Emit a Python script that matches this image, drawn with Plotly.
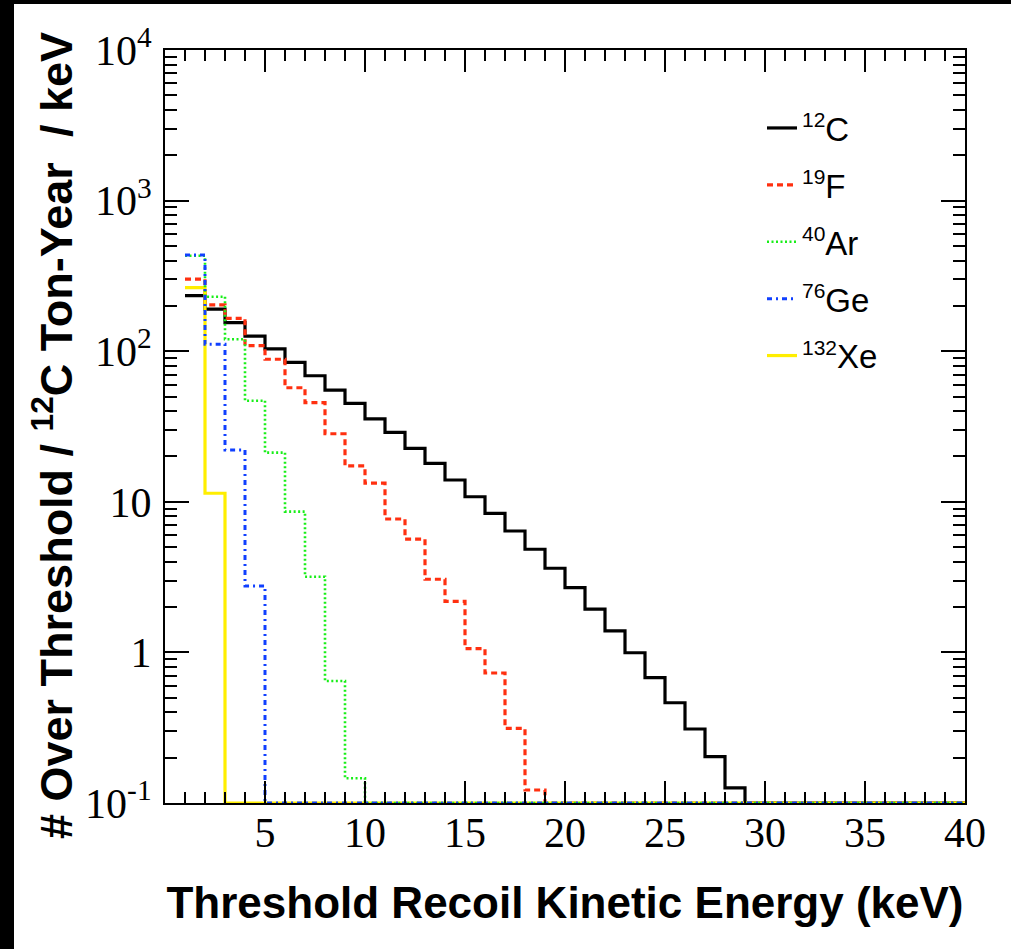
import numpy as np
import plotly.graph_objects as go

# ---------------- data ----------------
bin_edges = list(range(1, 41))  # 39 bins of 1 keV, from 1 to 40 keV

c12 = [234, 190, 155, 126, 103.5, 84.4, 68.7, 55.2, 45.1, 35.5, 28.9, 22.6, 18.0,
       13.96, 10.8, 8.39, 6.40, 4.84, 3.62, 2.69, 1.94, 1.39, 0.995, 0.679, 0.463,
       0.310, 0.203, 0.126] + [0] * 11
f19 = [301, 203, 165, 109, 88.4, 57.2, 45.5, 28.3, 17.3, 13.3, 7.69, 5.66, 3.06,
       2.18, 1.06, 0.730, 0.313, 0.122] + [0] * 21
ar40 = [430, 230, 120, 46.9, 21.2, 8.6, 3.18, 0.646, 0.146] + [0] * 30
ge76 = [435, 111, 22.1, 2.76] + [0] * 35
xe132 = [264, 11.4] + [0] * 37

isotopes = [("12", "C"), ("19", "F"), ("40", "Ar"), ("76", "Ge"), ("132", "Xe")]
y_tickvals = [0.1, 1, 10, 100, 1000, 10000]
y_ticktext = ["10<sup>-1</sup>", "1", "10", "10<sup>2</sup>", "10<sup>3</sup>", "10<sup>4</sup>"]
x_tickvals = [5, 10, 15, 20, 25, 30, 35, 40]
x_ticktext = ["5", "10", "15", "20", "25", "30", "35", "40"]
x_title = "Threshold Recoil Kinetic Energy (keV)"
y_title = "# Over Threshold / <sup>12</sup>C Ton-Year\u00a0 / keV"

Y_MIN, Y_MAX = 0.1, 10000
X_MIN, X_MAX = 0, 40

# ---------------- figure ----------------
fig = go.Figure()

def step_xy(vals):
    v = np.maximum(np.array(vals, dtype=float), Y_MIN)
    xs = list(bin_edges)
    ys = list(v) + [v[-1]]
    return xs, ys

styles = {
    0: dict(color="#000000", width=3.2, dash="solid"),
    1: dict(color="#ff3010", width=3.2, dash="6px,4px"),
    2: dict(color="#18ee18", width=2.6, dash="2px,2.5px"),
    3: dict(color="#1040ff", width=3, dash="5px,4px,2px,4px"),
    4: dict(color="#ffee00", width=3.2, dash="solid"),
}
series = [c12, f19, ar40, ge76, xe132]
draw_order = [0, 1, 4, 2, 3]

for i in draw_order:
    xs, ys = step_xy(series[i])
    mass, sym = isotopes[i]
    fig.add_trace(go.Scatter(
        x=xs, y=ys, mode="lines", line_shape="hv",
        line=styles[i],
        name=f'<sup><span style="font-size:21px">{mass}</span></sup>{sym}',
        legendgroup=f"g{i}", legendrank=i + 1,
        hoverinfo="skip",
    ))

y_minor = [m * 10.0 ** e for e in range(-1, 4) for m in range(2, 10)]

fig.update_layout(
    width=1011, height=949,
    margin=dict(l=165, r=46, t=50, b=146, autoexpand=False),
    paper_bgcolor="white", plot_bgcolor="white",
    showlegend=True,
    legend=dict(
        x=(762 - 165) / 800, y=(803 - 100) / 753, xanchor="left", yanchor="top",
        font=dict(family="Liberation Sans", size=33, color="black"),
        bgcolor="rgba(0,0,0,0)", itemwidth=30, tracegroupgap=11,
        traceorder="grouped",
    ),
    xaxis=dict(
        range=[X_MIN, X_MAX], showgrid=False, zeroline=False,
        showline=True, linecolor="black", linewidth=2, mirror="allticks",
        ticks="inside", ticklen=22, tickwidth=1.5, tickcolor="black",
        tickmode="array", tickvals=x_tickvals, ticktext=x_ticktext,
        minor=dict(ticks="inside", dtick=1, ticklen=11, tickwidth=1.5, tickcolor="black"),
        tickfont=dict(family="Liberation Serif", size=42, color="black"),
        ticklabelstandoff=-8,
        title=dict(text=x_title,
                   font=dict(family="Liberation Sans", size=44, color="black", weight="bold"),
                   standoff=32),
    ),
    yaxis=dict(
        type="log", range=[np.log10(Y_MIN), np.log10(Y_MAX)],
        showgrid=False, zeroline=False,
        showline=True, linecolor="black", linewidth=2, mirror="allticks",
        ticks="inside", ticklen=24, tickwidth=1.5, tickcolor="black",
        tickmode="array", tickvals=y_tickvals, ticktext=y_ticktext,
        minor=dict(ticks="inside", tickvals=y_minor, ticklen=12, tickwidth=1.5, tickcolor="black"),
        tickfont=dict(family="Liberation Serif", size=42, color="black"),
        ticklabelstandoff=3,
    ),
    annotations=[
        dict(text=y_title, textangle=-90, xref="paper", yref="paper",
             x=(53 - 165) / 800, y=(803 - 436) / 753, xanchor="center", yanchor="middle",
             showarrow=False,
             font=dict(family="Liberation Sans", size=45, color="black", weight="bold")),
    ],
    shapes=[
        dict(type="rect", xref="paper", yref="paper", layer="above",
             x0=-0.3, x1=(14 - 165) / 800, y0=-0.3, y1=1.2,
             fillcolor="black", line=dict(width=0)),
        dict(type="rect", xref="paper", yref="paper", layer="above",
             x0=-0.3, x1=1.2, y0=(803 - 4) / 753, y1=1.2,
             fillcolor="black", line=dict(width=0)),
    ],
)

fig.write_html("out.html")
